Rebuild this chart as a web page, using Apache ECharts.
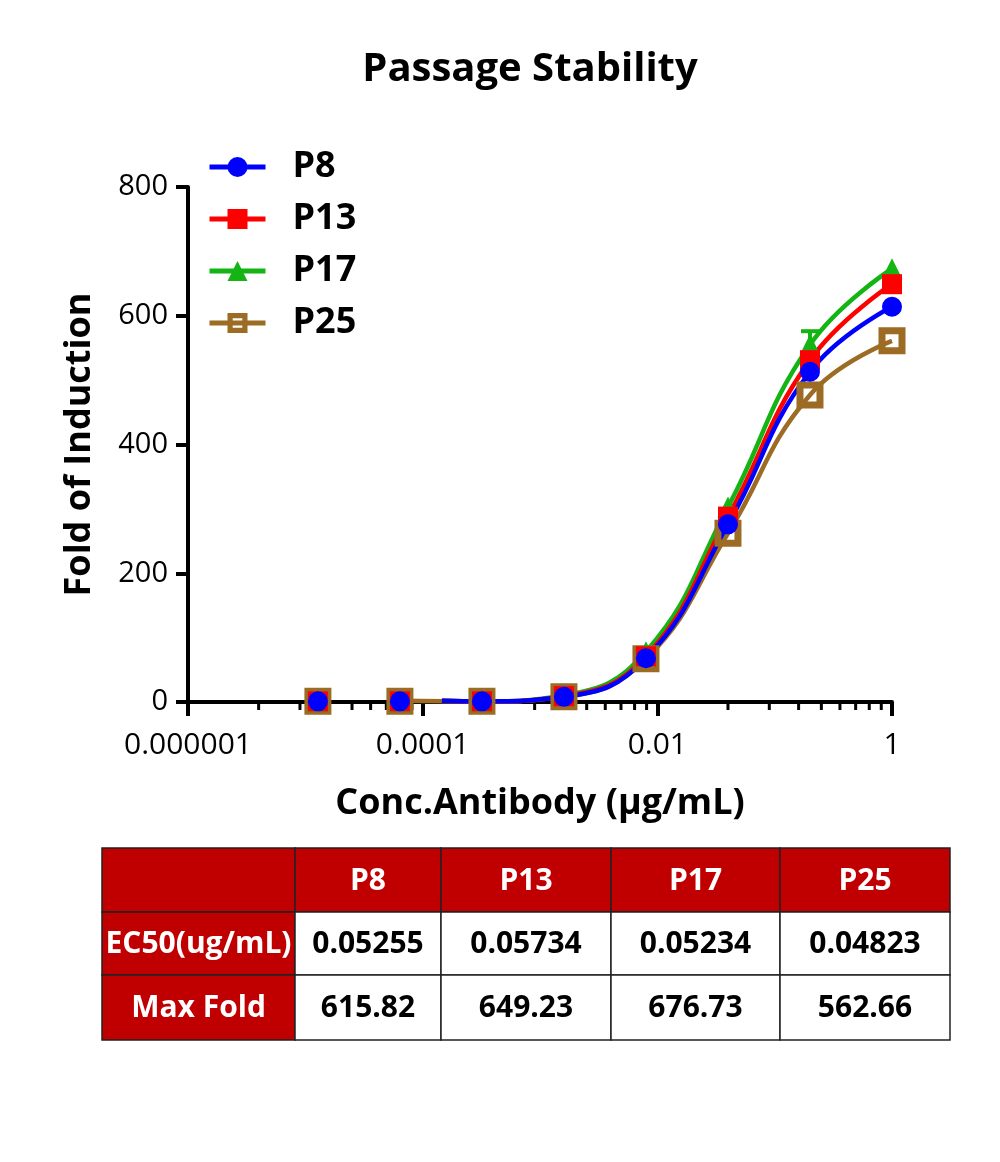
<!DOCTYPE html>
<html><head><meta charset="utf-8">
<script src="https://cdn.jsdelivr.net/npm/echarts@6/dist/echarts.min.js"></script>
<style>html,body{margin:0;padding:0;background:#fff}#c{width:1000px;height:1162px}</style>
</head><body><div id="c"></div>
<script>
// ---------------- data ----------------
const titleText = 'Passage Stability';
const xAxisName = 'Conc.Antibody (μg/mL)';
const yAxisName = 'Fold of Induction';
const concentrations = [0.0000128, 0.000064, 0.00032, 0.0016, 0.008, 0.04, 0.2, 1];
const seriesNames = ['P8', 'P13', 'P17', 'P25'];
const p8Values  = [1, 1, 1, 8, 68, 276, 513, 614];
const p13Values = [1, 1, 1, 9, 71, 288, 531, 649];
const p17Values = [1, 1, 1, 10, 78, 303, 555, 673];
const p25Values = [1, 1, 1, 8, 67, 262, 477, 561];
const curveStartX = [0.000146, 0.000146, 0.000146, 0.000064];
const curveStartY = [2, 2, 2, 2];
const p17ErrorBar = [0.2, 540, 576];
const xTickValues = [0.000001, 0.0001, 0.01, 1];
const xTickLabels = ['0.000001', '0.0001', '0.01', '1'];
const xMinorTicks = [4e-6, 9e-6, 1.6e-5, 2.5e-5, 3.6e-5, 4.9e-5, 6.4e-5, 8.1e-5,
  4e-4, 9e-4, 1.6e-3, 2.5e-3, 3.6e-3, 4.9e-3, 6.4e-3, 8.1e-3,
  0.04, 0.09, 0.16, 0.25, 0.36, 0.49, 0.64, 0.81];
const yMin = 0, yMax = 800, yInterval = 200;
const tableColumns = ['', 'P8', 'P13', 'P17', 'P25'];
const tableRowLabels = ['EC50(ug/mL)', 'Max Fold'];
const ec50Values = ['0.05255', '0.05734', '0.05234', '0.04823'];
const maxFoldValues = ['615.82', '649.23', '676.73', '562.66'];

// ---------------- style ----------------
const FONT = 'Open Sans';
const allValues = [p8Values, p13Values, p17Values, p25Values];
const colors = ['#0000FF', '#FF0000', '#14B414', '#9C6B24'];
const hollowSquare = 'path://M0,0H27V27H0Z M7,7V20H20V7Z';
const symbols = ['circle', 'rect', 'triangle', hollowSquare];
const symbolSizes = [20, 20, 21, 27];
const zOrder = [8, 7, 6, 5];

const chart = echarts.init(document.getElementById('c'), null, {renderer: 'canvas'});

const series = [];
seriesNames.forEach((name, i) => {
  const vals = allValues[i];
  const curve = [[curveStartX[i], curveStartY[i]]];
  concentrations.forEach((c, k) => { if (c > curveStartX[i]) curve.push([c, vals[k]]); });
  series.push({
    name, type: 'line', data: curve, smooth: 0.45,
    symbol: symbols[i], symbolSize: symbolSizes[i], showSymbol: false,
    lineStyle: {color: colors[i], width: 4.5}, itemStyle: {color: colors[i]},
    z: zOrder[i], clip: false, silent: true
  });
});
seriesNames.forEach((name, i) => {
  series.push({
    name, type: 'scatter', data: concentrations.map((c, k) => [c, allValues[i][k]]),
    symbol: symbols[i], symbolSize: symbolSizes[i],
    itemStyle: {color: colors[i], opacity: 1}, z: zOrder[i] + 10, clip: false, silent: true
  });
});
// error bar (P17 at 0.2)
series.push({
  type: 'custom', coordinateSystem: 'cartesian2d', silent: true, clip: false, z: 12,
  data: [p17ErrorBar], encode: {x: 0, y: [1, 2]},
  renderItem: (params, api) => {
    const x = api.value(0);
    const lo = api.coord([x, api.value(1)]);
    const hi = api.coord([x, api.value(2)]);
    const st = {stroke: colors[2], lineWidth: 4};
    return {type: 'group', children: [
      {type: 'line', shape: {x1: lo[0], y1: lo[1], x2: hi[0], y2: hi[1]}, style: st},
      {type: 'line', shape: {x1: hi[0] - 9, y1: hi[1], x2: hi[0] + 9, y2: hi[1]}, style: st}
    ]};
  }
});
// minor ticks on the log axis
series.push({
  type: 'custom', coordinateSystem: 'cartesian2d', silent: true, clip: false, z: 1,
  data: xMinorTicks.map(v => [v, 0]),
  renderItem: (params, api) => {
    const p = api.coord([api.value(0), 0]);
    return {type: 'line', shape: {x1: p[0], y1: p[1], x2: p[0], y2: p[1] + 8}, style: {stroke: '#000', lineWidth: 3}};
  }
});

// ---------------- table (graphic) ----------------
const colEdges = [102, 295, 441, 611, 780, 950];
const rowEdges = [848, 912, 975, 1040];
const RED = '#C00000';
const graphics = [];
const tableRows = [tableColumns, [tableRowLabels[0]].concat(ec50Values), [tableRowLabels[1]].concat(maxFoldValues)];
tableRows.forEach((row, r) => {
  row.forEach((txt, c) => {
    const x0 = colEdges[c], x1 = colEdges[c + 1], y0 = rowEdges[r], y1 = rowEdges[r + 1];
    const isRed = r === 0 || c === 0;
    graphics.push({type: 'rect', shape: {x: x0, y: y0, width: x1 - x0, height: y1 - y0},
      style: {fill: isRed ? RED : '#fff', stroke: '#222', lineWidth: 1.5}, z: 1});
    if (txt) graphics.push({type: 'text', x: (x0 + x1) / 2, y: (y0 + y1) / 2 + 1,
      style: {text: txt, fill: isRed ? '#fff' : '#000', font: 'bold 30px "' + FONT + '"', align: 'center', verticalAlign: 'middle'}, z: 2});
  });
});

chart.setOption({
  animation: false,
  backgroundColor: '#fff',
  title: {text: titleText, left: 525, top: 45, textAlign: 'center',
    textStyle: {fontFamily: FONT, fontWeight: 'bold', fontSize: 40, color: '#000'}},
  legend: {data: seriesNames, orient: 'vertical', left: 202, top: 144, itemWidth: 56, itemHeight: 25, itemGap: 16,
    selectedMode: false, lineStyle: {width: 5},
    textStyle: {fontFamily: FONT, fontWeight: 'bold', fontSize: 36, color: '#000', lineHeight: 33, padding: [0, 0, 0, 22]}},
  grid: {left: 188, right: 108, top: 187, bottom: 460, containLabel: false},
  xAxis: {
    type: 'log', logBase: 100, min: xTickValues[0], max: xTickValues[xTickValues.length - 1],
    name: xAxisName, nameLocation: 'middle', nameGap: 84,
    nameTextStyle: {fontFamily: FONT, fontWeight: 'bold', fontSize: 36, color: '#000'},
    axisLine: {lineStyle: {color: '#000', width: 4}},
    axisTick: {show: true, length: 14, lineStyle: {color: '#000', width: 4}},
    axisLabel: {fontFamily: FONT, fontSize: 30, color: '#000', margin: 28,
      formatter: v => { const i = xTickValues.findIndex(t => Math.abs(Math.log10(t) - Math.log10(v)) < 1e-6); return i >= 0 ? xTickLabels[i] : ''; }},
    splitLine: {show: false}, minorTick: {show: false}
  },
  yAxis: {
    type: 'value', min: yMin, max: yMax, interval: yInterval,
    name: yAxisName, nameLocation: 'middle', nameGap: 90, nameRotate: 90,
    nameTextStyle: {fontFamily: FONT, fontWeight: 'bold', fontSize: 36, color: '#000'},
    axisLine: {show: true, lineStyle: {color: '#000', width: 4}},
    axisTick: {show: true, length: 12, lineStyle: {color: '#000', width: 4}},
    axisLabel: {fontFamily: FONT, fontSize: 29, color: '#000', margin: 20},
    splitLine: {show: false}
  },
  series,
  graphic: graphics
});
</script></body></html>
